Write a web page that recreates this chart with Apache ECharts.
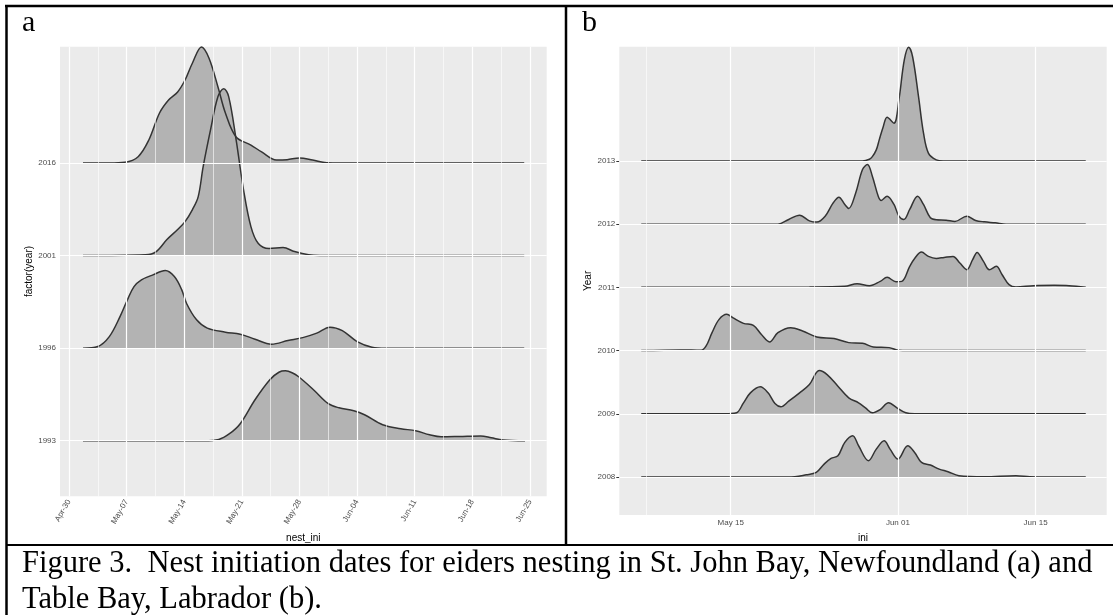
<!DOCTYPE html>
<html>
<head>
<meta charset="utf-8">
<script src="https://cdn.jsdelivr.net/npm/echarts@6/dist/echarts.min.js"></script>
<style>
html,body{margin:0;padding:0;background:#fff;}
#c{width:1113px;height:615px;}
</style>
</head>
<body>
<div id="c"></div>
<script>
// ---------- Panel a: St. John Bay (x = days since Apr 30) ----------
const A_YEARS = ['1993', '1996', '2001', '2016'];
const A_TICK_DAYS = [0, 7, 14, 21, 28, 35, 42, 49, 56];
const A_TICK_LABELS = ['Apr-30', 'May-07', 'May-14', 'May-21', 'May-28', 'Jun-04', 'Jun-11', 'Jun-18', 'Jun-25'];
const A_MINOR_DAYS = [3.5, 10.5, 17.5, 24.5, 31.5, 38.5, 45.5, 52.5];

// ridge heights in units of row spacing
const a1993 = [[1.7,0],[16.4,0],[18.2,0.014],[19.5,0.076],[20.8,0.184],[22.6,0.443],[24.4,0.659],[25.5,0.74],[26.3,0.755],[27.1,0.735],[27.9,0.691],[29.7,0.551],[31.5,0.4],[32.8,0.356],[34.6,0.324],[35.9,0.281],[38.1,0.173],[40.3,0.13],[42.1,0.108],[43.8,0.065],[45.2,0.043],[47.4,0.046],[50.0,0.051],[51.3,0.032],[52.7,0.008],[55.4,0]];
const a1996 = [[1.7,0],[3.5,0.018],[4.9,0.125],[6.2,0.341],[7.1,0.522],[7.9,0.665],[8.8,0.738],[10.2,0.792],[11.7,0.838],[12.8,0.773],[13.7,0.63],[14.3,0.48],[15.5,0.306],[16.8,0.216],[19.0,0.173],[20.8,0.151],[22.6,0.097],[24.6,0.043],[26.6,0.082],[28.4,0.114],[30.1,0.162],[31.7,0.227],[33.2,0.19],[35.0,0.071],[36.8,0.011],[38.5,0],[55.3,0]];
const a2001 = [[1.7,0],[9.3,0.008],[10.6,0.043],[11.9,0.173],[13.2,0.281],[14.1,0.367],[15.0,0.497],[15.7,0.637],[16.3,0.961],[17.2,1.361],[18.1,1.717],[18.8,1.803],[19.4,1.717],[20.3,1.253],[21.2,0.713],[22.1,0.313],[23.0,0.13],[24.3,0.076],[26.0,0.086],[27.4,0.043],[29.1,0.008],[30.5,0],[55.3,0]];
const a2016 = [[1.7,0],[4.9,0],[6.8,0.008],[8.4,0.068],[9.7,0.248],[11.0,0.54],[12.1,0.68],[13.2,0.767],[14.1,0.896],[15.0,1.08],[16.1,1.253],[17.0,1.134],[18.1,0.821],[19.0,0.54],[20.3,0.281],[22.1,0.194],[23.4,0.119],[25.2,0.032],[26.5,0.036],[28.0,0.054],[29.6,0.032],[31.3,0.003],[33,0],[55.3,0]];

// ---------- Panel b: Table Bay (x = days since May 1) ----------
const B_YEARS = ['2008', '2009', '2010', '2011', '2012', '2013'];
const B_TICK_DAYS = [14, 31, 45];
const B_TICK_LABELS = ['May 15', 'Jun 01', 'Jun 15'];
const B_MINOR_DAYS = [5.4, 22.5, 38];

const b2008 = [[4.9,0],[19.9,0],[21.7,0.036],[22.7,0.074],[23.5,0.205],[24.2,0.295],[24.9,0.337],[25.6,0.548],[26.4,0.653],[27.0,0.495],[28.0,0.258],[28.8,0.442],[29.6,0.574],[30.2,0.442],[31.0,0.284],[32.0,0.495],[32.7,0.39],[33.4,0.232],[34.3,0.19],[35.2,0.126],[36.1,0.084],[37.2,0.021],[39.8,0.005],[43.0,0.021],[44.4,0.005],[46,0],[50.1,0]];
const b2009 = [[4.9,0],[13.9,0.005],[14.6,0.016],[15.3,0.174],[16.0,0.332],[17.0,0.427],[17.8,0.332],[18.5,0.163],[19.1,0.111],[19.9,0.2],[21.0,0.332],[22.0,0.463],[23.0,0.684],[23.8,0.621],[24.9,0.437],[26.0,0.253],[27.0,0.174],[27.7,0.095],[28.4,0.016],[29.2,0.068],[30.05,0.174],[30.9,0.095],[31.8,0.016],[32.7,0],[50.1,0]];
const b2010 = [[4.9,0],[8.9,0.011],[11.0,0.005],[11.5,0.074],[12.1,0.284],[12.8,0.49],[13.6,0.573],[14.2,0.521],[15.3,0.431],[16.3,0.4],[17.1,0.258],[17.95,0.137],[18.8,0.284],[20.1,0.363],[21.3,0.311],[22.75,0.216],[24.5,0.19],[26.0,0.126],[27.4,0.115],[28.5,0.058],[30.1,0.047],[31.1,0.005],[32,0],[50.1,0]];
const b2011 = [[4.9,0],[22,0.005],[25.6,0.016],[26.85,0.058],[28.1,0.027],[29.2,0.095],[29.9,0.158],[30.8,0.09],[31.4,0.095],[32.2,0.332],[32.7,0.458],[33.4,0.558],[34.1,0.49],[34.9,0.458],[35.7,0.474],[36.6,0.49],[37.3,0.384],[38.0,0.28],[38.6,0.438],[39.05,0.553],[39.7,0.411],[40.3,0.28],[41.0,0.332],[41.6,0.2],[42.3,0.043],[43.0,0.005],[44.8,0.027],[46.9,0.032],[48.4,0.027],[50.1,0]];
const b2012 = [[4.9,0],[18.8,0],[19.9,0.074],[21.0,0.142],[22.0,0.052],[22.75,0.032],[23.6,0.126],[24.4,0.332],[25.0,0.427],[25.6,0.311],[26.0,0.248],[26.7,0.49],[27.4,0.864],[27.9,0.943],[28.4,0.758],[29.0,0.442],[29.3,0.374],[29.9,0.442],[30.6,0.311],[31.1,0.126],[31.6,0.074],[32.2,0.232],[33.0,0.442],[33.6,0.311],[34.3,0.1],[34.9,0.068],[35.9,0.063],[36.8,0.043],[38.0,0.126],[38.9,0.058],[39.8,0.036],[40.9,0.021],[42.0,0],[50.1,0]];
const b2013 = [[4.9,0],[27.4,0],[28.1,0.027],[28.4,0.068],[28.8,0.174],[29.1,0.332],[29.5,0.537],[29.9,0.69],[30.6,0.596],[31.1,0.964],[31.65,1.596],[32.1,1.796],[32.5,1.643],[33.1,1.011],[33.6,0.442],[34.1,0.122],[34.9,0.016],[35.6,0],[50.1,0]];

const A_RIDGES = [a1993, a1996, a2001, a2016];
const B_RIDGES = [b2008, b2009, b2010, b2011, b2012, b2013];

const FILL = '#b3b3b3', LINE = '#333333', PANEL = '#ebebeb';
const SANS = '"Liberation Sans", Arial, sans-serif';
const SERIF = '"Liberation Serif", "Times New Roman", serif';

function ridgeSeries(ridges, gi) {
  const out = [];
  // draw top rows first so lower rows overlap them
  for (let i = ridges.length - 1; i >= 0; i--) {
    const d = ridges[i];
    out.push({
      type: 'line', xAxisIndex: gi, yAxisIndex: gi, z: 2,
      data: d.map(p => [p[0], i + p[1]]), symbol: 'none', silent: true, smooth: 0.35,
      lineStyle: { color: LINE, width: 1.5 },
      areaStyle: { color: FILL, opacity: 1, origin: i }, animation: false
    });
  }
  return out;
}

function gridSeries(gi, majors, minors, rows) {
  const data = [];
  minors.forEach(v => data.push({ xAxis: v, lineStyle: { color: '#ffffff', width: 0.6, type: 'solid' } }));
  majors.forEach(v => data.push({ xAxis: v, lineStyle: { color: '#ffffff', width: 1.2, type: 'solid' } }));
  rows.forEach((_, i) => data.push({ yAxis: i, lineStyle: { color: '#ffffff', width: 1.2, type: 'solid' } }));
  return {
    type: 'line', xAxisIndex: gi, yAxisIndex: gi, data: [], z: 1, silent: true, animation: false,
    markLine: { silent: true, symbol: ['none', 'none'], label: { show: false }, animation: false, data: data }
  };
}

const tickLabel = (vals, labels) => (v) => {
  const k = vals.findIndex(t => Math.abs(t - v) < 1e-6);
  return k >= 0 ? labels[k] : '';
};

const chart = echarts.init(document.getElementById('c'), null, { renderer: 'canvas' });
chart.setOption({
  animation: false,
  backgroundColor: '#ffffff',
  grid: [
    { left: 60, top: 46.7, width: 486.7, height: 449.6, show: true, backgroundColor: PANEL, borderWidth: 0, containLabel: false },
    { left: 619.3, top: 46.7, width: 487.4, height: 468.3, show: true, backgroundColor: PANEL, borderWidth: 0, containLabel: false }
  ],
  xAxis: [
    {
      gridIndex: 0, type: 'value', min: -1.09, max: 58.03,
      axisLine: { show: false }, splitLine: { show: false },
      axisTick: { show: true, customValues: A_TICK_DAYS, length: 3, lineStyle: { color: LINE, width: 1 } },
      axisLabel: { customValues: A_TICK_DAYS, formatter: tickLabel(A_TICK_DAYS, A_TICK_LABELS), rotate: 60, fontSize: 8, color: '#4d4d4d', margin: 4, fontFamily: SANS },
      name: 'nest_ini', nameLocation: 'middle', nameGap: 37,
      nameTextStyle: { fontSize: 10, color: '#000', fontFamily: SANS }
    },
    {
      gridIndex: 1, type: 'value', min: 2.67, max: 52.23,
      axisLine: { show: false }, splitLine: { show: false },
      axisTick: { show: true, customValues: B_TICK_DAYS, length: 3, lineStyle: { color: LINE, width: 1 } },
      axisLabel: { customValues: B_TICK_DAYS, formatter: tickLabel(B_TICK_DAYS, B_TICK_LABELS), fontSize: 8, color: '#4d4d4d', margin: 4, fontFamily: SANS },
      name: 'ini', nameLocation: 'middle', nameGap: 18,
      nameTextStyle: { fontSize: 10, color: '#000', fontFamily: SANS }
    }
  ],
  yAxis: [
    {
      gridIndex: 0, type: 'value', min: -0.6, max: 4.256,
      axisLine: { show: false }, splitLine: { show: false },
      axisTick: { show: true, customValues: [0, 1, 2, 3], length: 3, lineStyle: { color: LINE, width: 1 } },
      axisLabel: { customValues: [0, 1, 2, 3], formatter: v => A_YEARS[Math.round(v)], fontSize: 8, color: '#4d4d4d', margin: 4, fontFamily: SANS },
      name: 'factor(year)', nameLocation: 'middle', nameGap: 24, nameRotate: 90,
      nameTextStyle: { fontSize: 10, color: '#000', fontFamily: SANS }
    },
    {
      gridIndex: 1, type: 'value', min: -0.6, max: 6.806,
      axisLine: { show: false }, splitLine: { show: false },
      axisTick: { show: true, customValues: [0, 1, 2, 3, 4, 5], length: 3, lineStyle: { color: LINE, width: 1 } },
      axisLabel: { customValues: [0, 1, 2, 3, 4, 5], formatter: v => B_YEARS[Math.round(v)], fontSize: 8, color: '#4d4d4d', margin: 4, fontFamily: SANS },
      name: 'Year', nameLocation: 'middle', nameGap: 26, nameRotate: 90,
      nameTextStyle: { fontSize: 10, color: '#000', fontFamily: SANS }
    }
  ],
  series: [
    gridSeries(0, A_TICK_DAYS, A_MINOR_DAYS, A_YEARS),
    gridSeries(1, B_TICK_DAYS, B_MINOR_DAYS, B_YEARS)
  ].concat(ridgeSeries(A_RIDGES, 0), ridgeSeries(B_RIDGES, 1)),
  graphic: [
    { type: 'line', shape: { x1: 5, y1: 6, x2: 1113, y2: 6 }, style: { stroke: '#000', lineWidth: 2.5 } },
    { type: 'line', shape: { x1: 6.5, y1: 5, x2: 6.5, y2: 615 }, style: { stroke: '#000', lineWidth: 2.5 } },
    { type: 'line', shape: { x1: 566, y1: 6, x2: 566, y2: 545 }, style: { stroke: '#000', lineWidth: 2.5 } },
    { type: 'line', shape: { x1: 6, y1: 545, x2: 1113, y2: 545 }, style: { stroke: '#000', lineWidth: 2 } },
    { type: 'text', x: 22, y: 23, style: { text: 'a', fontSize: 30, fontFamily: SERIF, fill: '#000', verticalAlign: 'middle' } },
    { type: 'text', x: 582, y: 23, style: { text: 'b', fontSize: 30, fontFamily: SERIF, fill: '#000', verticalAlign: 'middle' } },
    { type: 'text', x: 22, y: 564, style: { text: 'Figure 3.  Nest initiation dates for eiders nesting in St. John Bay, Newfoundland (a) and', fontSize: 30.5, fontFamily: SERIF, fill: '#000', verticalAlign: 'middle' } },
    { type: 'text', x: 22, y: 600, style: { text: 'Table Bay, Labrador (b).', fontSize: 30.5, fontFamily: SERIF, fill: '#000', verticalAlign: 'middle' } }
  ]
});
</script>
</body>
</html>
